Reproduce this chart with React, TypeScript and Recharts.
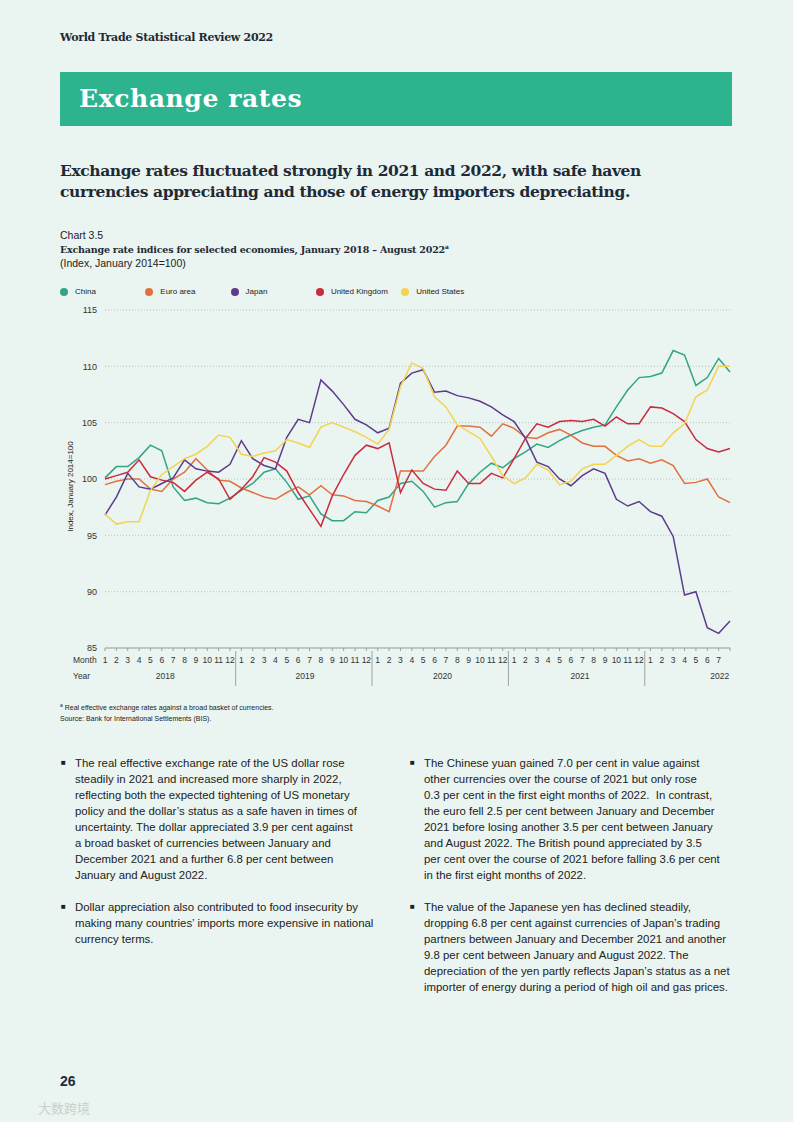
import { LineChart, Line, XAxis, YAxis, CartesianGrid } from 'recharts'

// categories
const YEARS = ['2018', '2019', '2020', '2021', '2022']
const MONTHS = ['1', '2', '3', '4', '5', '6', '7', '8', '9', '10', '11', '12']

// series values (index, January 2014 = 100), Jan 2018 – Aug 2022
const china = [
  100.1, 101.1, 101.1, 101.9, 103.0, 102.5, 99.3, 98.1, 98.3, 97.9, 97.8, 98.3,
  99.0, 99.6, 100.6, 100.9, 99.7, 98.2, 98.5, 96.9, 96.3, 96.3, 97.1, 97.0,
  98.1, 98.4, 99.6, 99.8, 98.9, 97.5, 97.9, 98.0, 99.6, 100.6, 101.4, 101.0,
  101.8, 102.4, 103.1, 102.8, 103.4, 103.9, 104.3, 104.6, 104.8, 106.4, 107.9, 109.0,
  109.1, 109.4, 111.4, 111.0, 108.3, 109.0, 110.7, 109.5,
]
const euroArea = [
  99.5, 99.8, 100.0, 100.0, 99.1, 98.9, 100.0, 100.6, 101.8, 100.8, 99.9, 99.8,
  99.2, 98.8, 98.4, 98.2, 98.8, 99.3, 98.6, 99.4, 98.6, 98.5, 98.1, 98.0,
  97.6, 97.1, 100.7, 100.7, 100.7, 102.0, 103.0, 104.7, 104.7, 104.6, 103.8, 104.9,
  104.5, 103.7, 103.6, 104.1, 104.4, 103.9, 103.2, 102.9, 102.9, 102.1, 101.6, 101.8,
  101.4, 101.7, 101.2, 99.6, 99.7, 100.0, 98.4, 97.9,
]
const japan = [
  96.8, 98.4, 100.5, 99.3, 99.1, 99.6, 100.1, 101.7, 100.9, 100.7, 100.6, 101.3,
  103.4, 101.8, 101.2, 100.9, 103.7, 105.3, 105.0, 108.8, 107.8, 106.6, 105.3, 104.8,
  104.1, 104.5, 108.5, 109.4, 109.7, 107.7, 107.8, 107.4, 107.2, 106.9, 106.4, 105.7,
  105.1, 103.6, 101.5, 101.1, 100.0, 99.4, 100.3, 100.9, 100.5, 98.2, 97.6, 98.0,
  97.1, 96.7, 94.9, 89.7, 90.0, 86.8, 86.3, 87.4,
]
const unitedKingdom = [
  100.0, 100.3, 100.6, 101.7, 100.2, 99.9, 99.7, 98.9, 99.9, 100.6, 100.0, 98.2,
  99.1, 100.2, 101.9, 101.5, 100.7, 98.8, 97.3, 95.8, 98.5, 100.4, 102.1, 103.0,
  102.7, 103.2, 98.8, 100.8, 99.6, 99.1, 99.0, 100.7, 99.6, 99.6, 100.5, 100.1,
  101.8, 103.6, 104.9, 104.6, 105.1, 105.2, 105.1, 105.3, 104.7, 105.5, 104.9, 104.9,
  106.4, 106.3, 105.8, 105.1, 103.5, 102.7, 102.4, 102.7,
]
const unitedStates = [
  96.9, 96.0, 96.2, 96.2, 99.0, 100.4, 101.1, 101.8, 102.2, 102.9, 103.9, 103.7,
  102.2, 102.0, 102.3, 102.5, 103.5, 103.2, 102.8, 104.6, 105.0, 104.6, 104.2, 103.7,
  103.1, 104.4, 108.2, 110.3, 109.8, 107.3, 106.4, 104.8, 104.2, 103.6, 102.0, 100.3,
  99.6, 100.1, 101.3, 100.8, 99.5, 99.8, 100.9, 101.3, 101.3, 102.1, 102.9, 103.5,
  102.9, 102.9, 104.1, 104.9, 107.3, 107.9, 110.0, 110.0,
]

// tick labels
const Y_TICKS = [85, 90, 95, 100, 105, 110, 115]
const LAST_LABELLED_MONTH = 54 // August 2022 has no label
const YEAR_SEPARATORS = [11.5, 23.5, 35.5, 47.5]
const YEAR_LABEL_AT = [5.3, 17.6, 29.7, 41.8, 54.1]

const SERIES = [
  { key: 'china', name: 'China', color: '#33a486' },
  { key: 'euroArea', name: 'Euro area', color: '#e2703f' },
  { key: 'japan', name: 'Japan', color: '#5c3b8e' },
  { key: 'unitedKingdom', name: 'United Kingdom', color: '#c92b40' },
  { key: 'unitedStates', name: 'United States', color: '#f3d350' },
]

const data = china.map((v, i) => ({
  i,
  month: MONTHS[i % 12],
  china: v,
  euroArea: euroArea[i],
  japan: japan[i],
  unitedKingdom: unitedKingdom[i],
  unitedStates: unitedStates[i],
}))
const monthTicks = data.map((d) => d.i)

const SANS = '"Liberation Sans", Arial, sans-serif'
const SLAB = '"DejaVu Serif", serif'
const INK = '#1f2a36'

const leftBullets = [
  [
    'The real effective exchange rate of the US dollar rose',
    'steadily in 2021 and increased more sharply in 2022,',
    'reflecting both the expected tightening of US monetary',
    'policy and the dollar’s status as a safe haven in times of',
    'uncertainty. The dollar appreciated 3.9 per cent against',
    'a broad basket of currencies between January and',
    'December 2021 and a further 6.8 per cent between',
    'January and August 2022.',
  ],
  [
    'Dollar appreciation also contributed to food insecurity by',
    'making many countries’ imports more expensive in national',
    'currency terms.',
  ],
]
const rightBullets = [
  [
    'The Chinese yuan gained 7.0 per cent in value against',
    'other currencies over the course of 2021 but only rose',
    '0.3 per cent in the first eight months of 2022.  In contrast,',
    'the euro fell 2.5 per cent between January and December',
    '2021 before losing another 3.5 per cent between January',
    'and August 2022. The British pound appreciated by 3.5',
    'per cent over the course of 2021 before falling 3.6 per cent',
    'in the first eight months of 2022.',
  ],
  [
    'The value of the Japanese yen has declined steadily,',
    'dropping 6.8 per cent against currencies of Japan’s trading',
    'partners between January and December 2021 and another',
    '9.8 per cent between January and August 2022. The',
    'depreciation of the yen partly reflects Japan’s status as a net',
    'importer of energy during a period of high oil and gas prices.',
  ],
]

function Bullets({ items, left }: { items: string[][]; left: number }) {
  return (
    <div style={{ position: 'absolute', left, top: 755, fontFamily: SANS, fontSize: 11.4, color: '#222' }}>
      {items.map((lines, k) => (
        <div key={k} style={{ position: 'relative', marginBottom: 16 }}>
          <span style={{ position: 'absolute', left: 0, top: 0, lineHeight: '16px', fontSize: 8 }}>■</span>
          <div style={{ marginLeft: 14 }}>
            {lines.map((l, j) => (
              <div key={j} style={{ whiteSpace: 'pre', lineHeight: '16px' }}>{l}</div>
            ))}
          </div>
        </div>
      ))}
    </div>
  )
}

function MonthTick({ x, y, payload }: any) {
  const v = payload.value
  return (
    <text x={x} y={y} dy="0.71em" textAnchor="middle" fontSize={8.5} fontFamily={SANS} fill="#333">
      {v <= LAST_LABELLED_MONTH ? MONTHS[v % 12] : ''}
    </text>
  )
}

function YearTick({ x, y, payload }: any) {
  const v = payload.value
  if (YEAR_SEPARATORS.includes(v)) {
    return <line x1={x} x2={x} y1={y - 11} y2={y + 24} stroke="#8a8f8d" strokeWidth={0.8} />
  }
  const k = YEAR_LABEL_AT.indexOf(v)
  return (
    <text x={x} y={y + 17} textAnchor="middle" fontSize={8.5} fontFamily={SANS} fill="#333">
      {YEARS[k]}
    </text>
  )
}

export default function App() {
  return (
    <div
      style={{
        position: 'absolute',
        left: 0,
        top: 0,
        width: 793,
        height: 1122,
        background: '#eaf4f0',
        overflow: 'hidden',
        color: INK,
      }}
    >
      <div style={{ position: 'absolute', left: 60, top: 31, fontFamily: SLAB, fontSize: 11, fontWeight: 700, letterSpacing: -0.3 }}>
        World Trade Statistical Review 2022
      </div>

      <div style={{ position: 'absolute', left: 60, top: 72, width: 672, height: 54, background: '#2eb38f' }}>
        <div style={{ position: 'absolute', left: 19, top: 12, fontFamily: SLAB, fontSize: 25, fontWeight: 700, letterSpacing: 0.6, color: '#fff' }}>
          Exchange rates
        </div>
      </div>

      <div style={{ position: 'absolute', left: 60, top: 160, fontFamily: SLAB, fontSize: 15.5, fontWeight: 700, lineHeight: '21px', letterSpacing: -0.4 }}>
        <div>Exchange rates fluctuated strongly in 2021 and 2022, with safe haven</div>
        <div>currencies appreciating and those of energy importers depreciating.</div>
      </div>

      <div style={{ position: 'absolute', left: 60, top: 229, fontFamily: SANS, fontSize: 10.5, color: '#222' }}>Chart 3.5</div>
      <div style={{ position: 'absolute', left: 60, top: 243, fontFamily: SLAB, fontSize: 9.5, fontWeight: 700, letterSpacing: -0.2 }}>
        Exchange rate indices for selected economies, January 2018 – August 2022
        <sup style={{ fontSize: 6 }}>a</sup>
      </div>
      <div style={{ position: 'absolute', left: 60, top: 257, fontFamily: SANS, fontSize: 10.5, color: '#222' }}>(Index, January 2014=100)</div>

      {/* legend */}
      <div style={{ position: 'absolute', left: 60, top: 287, display: 'flex', fontFamily: SANS, fontSize: 8, color: '#222' }}>
        {SERIES.map((s) => (
          <div key={s.key} style={{ width: 85.3, display: 'flex', alignItems: 'center' }}>
            <span style={{ width: 8, height: 8, borderRadius: 4, background: s.color, marginRight: 7 }} />
            {s.name}
          </div>
        ))}
      </div>

      <div
        style={{
          position: 'absolute',
          left: 0,
          top: 482,
          width: 140,
          textAlign: 'center',
          transform: 'rotate(-90deg)',
          fontFamily: SANS,
          fontSize: 8,
          color: '#222',
        }}
      >
        Index, January 2014=100
      </div>

      <div style={{ position: 'absolute', left: 73, top: 655, fontFamily: SANS, fontSize: 8.5, color: '#333' }}>Month</div>
      <div style={{ position: 'absolute', left: 73, top: 671, fontFamily: SANS, fontSize: 8.5, color: '#333' }}>Year</div>

      <div style={{ position: 'absolute', left: 60, top: 300 }}>
        <LineChart width={672} height={398} data={data} margin={{ top: 10, right: 2, left: 0, bottom: 0 }}>
          <CartesianGrid horizontal vertical={false} stroke="#b8c3bf" strokeDasharray="1 2" />
          <XAxis
            dataKey="i"
            type="number"
            domain={[0, 55]}
            ticks={monthTicks}
            interval={0}
            height={14}
            tickSize={3}
            tickMargin={6}
            stroke="#9aa19e"
            tick={MonthTick}
          />
          <XAxis
            xAxisId="year"
            dataKey="i"
            type="number"
            domain={[0, 55]}
            ticks={[...YEAR_LABEL_AT, ...YEAR_SEPARATORS].sort((a, b) => a - b)}
            interval={0}
            height={36}
            axisLine={false}
            tickLine={false}
            tickSize={0}
            tickMargin={0}
            tick={YearTick}
          />
          <YAxis
            domain={[85, 115]}
            ticks={Y_TICKS}
            interval={0}
            width={45}
            axisLine={false}
            tickLine={false}
            tickSize={0}
            tickMargin={8}
            tick={{ fontSize: 9, fill: '#333', fontFamily: SANS }}
          />
          {SERIES.map((s) => (
            <Line
              key={s.key}
              dataKey={s.key}
              name={s.name}
              type="linear"
              stroke={s.color}
              strokeWidth={1.5}
              dot={false}
              isAnimationActive={false}
            />
          ))}
        </LineChart>
      </div>

      <div style={{ position: 'absolute', left: 60, top: 700, fontFamily: SANS, fontSize: 7, color: '#222', lineHeight: '11px' }}>
        <div>
          <sup style={{ fontSize: 5 }}>a</sup> Real effective exchange rates against a broad basket of currencies.
        </div>
        <div>Source: Bank for International Settlements (BIS).</div>
      </div>

      <Bullets items={leftBullets} left={61} />
      <Bullets items={rightBullets} left={410} />

      <div style={{ position: 'absolute', left: 60, top: 1073, fontFamily: SANS, fontSize: 14, fontWeight: 700 }}>26</div>
      <div style={{ position: 'absolute', left: 38, top: 1098, fontFamily: '"Noto Sans CJK SC", sans-serif', fontSize: 13, color: '#c9d0cd' }}>
        大数跨境
      </div>
    </div>
  )
}
